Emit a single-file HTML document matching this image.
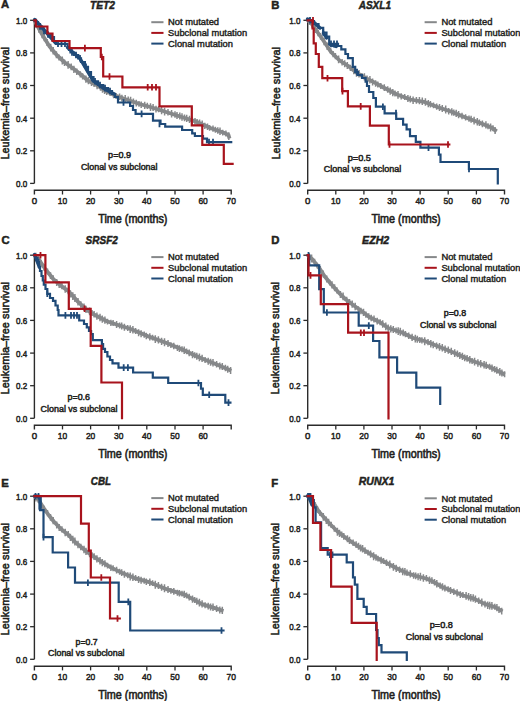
<!DOCTYPE html>
<html><head><meta charset="utf-8"><style>
html,body{margin:0;padding:0;background:#fff;}
svg{display:block;}
text{font-family:"Liberation Sans", sans-serif;fill:#231f20;stroke:#231f20;}
</style></head><body>
<svg width="520" height="701" viewBox="0 0 520 701">
<rect width="520" height="701" fill="#fff"/>
<text x="1.0" y="8.3" font-size="11.3" text-anchor="start" font-weight="bold" font-style="normal" stroke-width="0.5">A</text>
<text x="90.0" y="8.5" font-size="11.3" text-anchor="start" font-weight="bold" font-style="italic" textLength="25.0" lengthAdjust="spacingAndGlyphs" stroke-width="0.5">TET2</text>
<path d="M34.4 20.3V183.4" stroke="#2b2b2b" stroke-width="1.4" fill="none"/>
<path d="M30.1 183.4H34.4" stroke="#2b2b2b" stroke-width="1.3"/>
<text x="27.2" y="186.9" font-size="9.8" text-anchor="end" font-weight="normal" font-style="normal" textLength="11.2" lengthAdjust="spacingAndGlyphs" stroke-width="0.5">0.0</text>
<path d="M30.1 150.8H34.4" stroke="#2b2b2b" stroke-width="1.3"/>
<text x="27.2" y="154.3" font-size="9.8" text-anchor="end" font-weight="normal" font-style="normal" textLength="11.2" lengthAdjust="spacingAndGlyphs" stroke-width="0.5">0.2</text>
<path d="M30.1 118.2H34.4" stroke="#2b2b2b" stroke-width="1.3"/>
<text x="27.2" y="121.7" font-size="9.8" text-anchor="end" font-weight="normal" font-style="normal" textLength="11.2" lengthAdjust="spacingAndGlyphs" stroke-width="0.5">0.4</text>
<path d="M30.1 85.5H34.4" stroke="#2b2b2b" stroke-width="1.3"/>
<text x="27.2" y="89.0" font-size="9.8" text-anchor="end" font-weight="normal" font-style="normal" textLength="11.2" lengthAdjust="spacingAndGlyphs" stroke-width="0.5">0.6</text>
<path d="M30.1 52.9H34.4" stroke="#2b2b2b" stroke-width="1.3"/>
<text x="27.2" y="56.4" font-size="9.8" text-anchor="end" font-weight="normal" font-style="normal" textLength="11.2" lengthAdjust="spacingAndGlyphs" stroke-width="0.5">0.8</text>
<path d="M30.1 20.3H34.4" stroke="#2b2b2b" stroke-width="1.3"/>
<text x="27.2" y="23.8" font-size="9.8" text-anchor="end" font-weight="normal" font-style="normal" textLength="11.2" lengthAdjust="spacingAndGlyphs" stroke-width="0.5">1.0</text>
<text x="0" y="0" font-size="11.6" text-anchor="middle" textLength="112.5" lengthAdjust="spacingAndGlyphs" stroke-width="0.55" transform="translate(8.8 103.3) rotate(-90)">Leukemia–free survival</text>
<path d="M34.4 194.5V190.3H231.2V194.5" stroke="#2b2b2b" stroke-width="1.4" fill="none"/>
<text x="34.4" y="203.7" font-size="9.8" text-anchor="middle" font-weight="normal" font-style="normal" textLength="5.4" lengthAdjust="spacingAndGlyphs" stroke-width="0.5">0</text>
<path d="M62.5 190.3V194.5" stroke="#2b2b2b" stroke-width="1.3"/>
<text x="62.5" y="203.7" font-size="9.8" text-anchor="middle" font-weight="normal" font-style="normal" textLength="9.4" lengthAdjust="spacingAndGlyphs" stroke-width="0.5">10</text>
<path d="M90.6 190.3V194.5" stroke="#2b2b2b" stroke-width="1.3"/>
<text x="90.6" y="203.7" font-size="9.8" text-anchor="middle" font-weight="normal" font-style="normal" textLength="9.4" lengthAdjust="spacingAndGlyphs" stroke-width="0.5">20</text>
<path d="M118.7 190.3V194.5" stroke="#2b2b2b" stroke-width="1.3"/>
<text x="118.7" y="203.7" font-size="9.8" text-anchor="middle" font-weight="normal" font-style="normal" textLength="9.4" lengthAdjust="spacingAndGlyphs" stroke-width="0.5">30</text>
<path d="M146.8 190.3V194.5" stroke="#2b2b2b" stroke-width="1.3"/>
<text x="146.8" y="203.7" font-size="9.8" text-anchor="middle" font-weight="normal" font-style="normal" textLength="9.4" lengthAdjust="spacingAndGlyphs" stroke-width="0.5">40</text>
<path d="M175.0 190.3V194.5" stroke="#2b2b2b" stroke-width="1.3"/>
<text x="175.0" y="203.7" font-size="9.8" text-anchor="middle" font-weight="normal" font-style="normal" textLength="9.4" lengthAdjust="spacingAndGlyphs" stroke-width="0.5">50</text>
<path d="M203.1 190.3V194.5" stroke="#2b2b2b" stroke-width="1.3"/>
<text x="203.1" y="203.7" font-size="9.8" text-anchor="middle" font-weight="normal" font-style="normal" textLength="9.4" lengthAdjust="spacingAndGlyphs" stroke-width="0.5">60</text>
<text x="231.2" y="203.7" font-size="9.8" text-anchor="middle" font-weight="normal" font-style="normal" textLength="9.4" lengthAdjust="spacingAndGlyphs" stroke-width="0.5">70</text>
<text x="132.8" y="223.2" font-size="12" text-anchor="middle" font-weight="normal" font-style="normal" textLength="69.2" lengthAdjust="spacingAndGlyphs" stroke-width="0.6">Time (months)</text>
<path d="M151.3 22.2H163.5" stroke="#86888a" stroke-width="2"/>
<text x="168.1" y="25.4" font-size="9.3" text-anchor="start" font-weight="normal" font-style="normal" textLength="51.0" lengthAdjust="spacingAndGlyphs" stroke-width="0.42">Not mutated</text>
<path d="M151.3 32.9H163.5" stroke="#a8131c" stroke-width="2"/>
<text x="168.1" y="36.1" font-size="9.3" text-anchor="start" font-weight="normal" font-style="normal" textLength="79.0" lengthAdjust="spacingAndGlyphs" stroke-width="0.42">Subclonal mutation</text>
<path d="M151.3 43.6H163.5" stroke="#1f4a78" stroke-width="2"/>
<text x="168.1" y="46.8" font-size="9.3" text-anchor="start" font-weight="normal" font-style="normal" textLength="64.8" lengthAdjust="spacingAndGlyphs" stroke-width="0.42">Clonal mutation</text>
<text x="108.1" y="158.1" font-size="9.2" text-anchor="start" font-weight="normal" font-style="normal" textLength="22.9" lengthAdjust="spacingAndGlyphs" stroke-width="0.5">p=0.9</text>
<text x="80.9" y="170.4" font-size="9.2" text-anchor="start" font-weight="normal" font-style="normal" textLength="76.6" lengthAdjust="spacingAndGlyphs" stroke-width="0.5">Clonal vs subclonal</text>
<path d="M34.4 20.3 L41.7 33.8 L49.4 46.2 L57.1 55.5 L64.8 62.5 L72.5 68.0 L80.2 74.0 L87.8 80.5 L95.5 84.5 L104.8 90.5 L114.0 95.0 L123.5 98.5 L139.6 104.0 L150.4 107.0 L163.8 111.2 L178.6 116.0 L196.9 121.9 L210.4 128.0 L223.8 132.7 L228.5 135.0 L229.5 138.5" stroke="#86888a" stroke-width="3.8" fill="none" stroke-linejoin="round"/><path d="M35.9 19.7V27.2M38.9 24.9V32.7M42.1 30.6V38.2M44.3 33.9V41.3M47.1 39.0V46.0M50.7 43.8V51.5M53.2 47.0V54.4M56.4 51.2V58.2M59.0 54.4V60.4M62.3 56.5V64.4M64.5 59.4V65.9M68.1 60.9V68.7M71.2 63.5V70.2M73.9 65.7V73.1M76.8 68.5V74.9M80.3 71.2V77.5M82.6 73.3V79.5M85.9 75.5V82.8M88.4 76.9V84.3M91.5 78.7V86.0M94.1 80.4V87.0M97.1 81.9V89.3M100.5 84.8V90.7M102.5 85.6V92.8M104.6 86.3V94.1M106.7 87.2V95.1M110.1 89.8V95.9M113.6 91.9V98.3M116.1 93.1V99.0M119.6 93.6V99.9M121.9 94.8V101.6M125.2 94.9V102.8M128.2 96.5V103.1M130.6 96.8V104.6M133.4 98.5V105.5M136.3 99.7V106.6M139.0 100.9V106.8M141.2 101.5V108.1M144.7 101.7V109.1M147.3 102.8V109.1M150.5 103.3V111.1M153.1 104.1V111.0M156.0 105.7V112.4M158.6 106.1V112.3M161.6 106.6V114.2M164.6 107.8V115.5M168.0 109.1V115.4M171.6 109.9V117.4M175.0 111.2V117.8M177.0 112.0V119.1M179.8 112.6V119.5M182.0 113.3V120.8M184.5 114.6V121.3M186.7 114.8V121.9M189.5 115.7V123.1M192.2 116.6V124.2M195.0 118.1V124.7M197.1 118.9V125.6M199.6 119.6V125.9M202.2 120.6V127.4M204.8 122.8V128.9M207.5 123.4V130.1M209.6 124.9V130.7M213.0 125.4V131.8M215.4 126.7V132.8M217.8 127.3V133.7M220.0 127.6V134.9M222.7 129.7V135.6M225.9 130.5V136.5M228.8 132.2V140.1" stroke="#86888a" stroke-width="1.5" fill="none"/>
<path d="M34.4 20.3H36.0V22.0H38.0V24.0H40.0V26.5H42.0V28.5H44.0V31.0H46.0V33.0H48.0V34.5H51.2V37.0H54.0V41.0H56.0V43.8H67.6V47.0H69.0V50.0H70.5V52.5H74.0V55.0H78.2V58.3H81.0V62.0H84.9V66.9H88.0V72.0H91.0V77.0H93.5V81.3H98.0V85.0H103.2V88.1H108.0V91.0H112.0V93.8H115.0V97.0H118.0V102.5H130.1V106.0H133.0V110.0H135.6V113.9H153.0V120.7H160.5V124.0H165.2V126.7H182.1V130.0H192.2V133.4H194.9V136.0H203.0V138.7H207.0V142.1H231.2" stroke="#1f4a78" stroke-width="2.2" fill="none" stroke-linecap="square"/><path d="M36.0 18.7V25.3M40.0 23.2V29.8M44.0 27.7V34.3M48.0 31.2V37.8M58.0 40.5V47.1M61.5 40.5V47.1M65.0 40.5V47.1M72.0 49.2V55.8M76.0 51.7V58.3M80.0 55.0V61.6M86.0 63.6V70.2M95.0 78.0V84.6M100.0 81.7V88.3M105.0 84.8V91.4M110.0 87.7V94.3M123.5 99.2V105.8M141.6 110.6V117.2M159.5 120.7V127.3M209.0 138.8V145.4M213.0 138.8V145.4" stroke="#1f4a78" stroke-width="1.8" fill="none"/>
<path d="M34.6 19.5 L45.0 31.0 L55.5 43.0" stroke="#1f4a78" stroke-width="3.4" fill="none" stroke-linecap="round"/>
<path d="M67.5 47.5 L80.0 58.5 L93.0 80.5 L104.0 88.5 L114.0 94.0" stroke="#1f4a78" stroke-width="3.4" fill="none" stroke-linecap="round"/>
<path d="M34.4 20.3H35.8V26.5H47.4V33.5H52.5V41.0H69.5V48.1H100.8V57.0H103.2V76.5H122.4V87.3H159.5V106.4H191.8V125.3H202.3V144.8H223.8V163.9H232.6" stroke="#a8131c" stroke-width="2.2" fill="none" stroke-linecap="square"/><path d="M84.9 44.8V51.4M101.8 53.7V60.3M109.5 73.2V79.8M147.7 84.0V90.6M152.0 84.0V90.6M156.0 84.0V90.6" stroke="#a8131c" stroke-width="1.8" fill="none"/>
<text x="271.2" y="8.7" font-size="11.3" text-anchor="start" font-weight="bold" font-style="normal" stroke-width="0.5">B</text>
<text x="358.7" y="8.7" font-size="11.3" text-anchor="start" font-weight="bold" font-style="italic" textLength="32.3" lengthAdjust="spacingAndGlyphs" stroke-width="0.5">ASXL1</text>
<path d="M307.7 20.3V183.4" stroke="#2b2b2b" stroke-width="1.4" fill="none"/>
<path d="M303.4 183.4H307.7" stroke="#2b2b2b" stroke-width="1.3"/>
<text x="300.5" y="186.9" font-size="9.8" text-anchor="end" font-weight="normal" font-style="normal" textLength="11.2" lengthAdjust="spacingAndGlyphs" stroke-width="0.5">0.0</text>
<path d="M303.4 150.8H307.7" stroke="#2b2b2b" stroke-width="1.3"/>
<text x="300.5" y="154.3" font-size="9.8" text-anchor="end" font-weight="normal" font-style="normal" textLength="11.2" lengthAdjust="spacingAndGlyphs" stroke-width="0.5">0.2</text>
<path d="M303.4 118.2H307.7" stroke="#2b2b2b" stroke-width="1.3"/>
<text x="300.5" y="121.7" font-size="9.8" text-anchor="end" font-weight="normal" font-style="normal" textLength="11.2" lengthAdjust="spacingAndGlyphs" stroke-width="0.5">0.4</text>
<path d="M303.4 85.5H307.7" stroke="#2b2b2b" stroke-width="1.3"/>
<text x="300.5" y="89.0" font-size="9.8" text-anchor="end" font-weight="normal" font-style="normal" textLength="11.2" lengthAdjust="spacingAndGlyphs" stroke-width="0.5">0.6</text>
<path d="M303.4 52.9H307.7" stroke="#2b2b2b" stroke-width="1.3"/>
<text x="300.5" y="56.4" font-size="9.8" text-anchor="end" font-weight="normal" font-style="normal" textLength="11.2" lengthAdjust="spacingAndGlyphs" stroke-width="0.5">0.8</text>
<path d="M303.4 20.3H307.7" stroke="#2b2b2b" stroke-width="1.3"/>
<text x="300.5" y="23.8" font-size="9.8" text-anchor="end" font-weight="normal" font-style="normal" textLength="11.2" lengthAdjust="spacingAndGlyphs" stroke-width="0.5">1.0</text>
<text x="0" y="0" font-size="11.6" text-anchor="middle" textLength="112.5" lengthAdjust="spacingAndGlyphs" stroke-width="0.55" transform="translate(279.5 103.3) rotate(-90)">Leukemia–free survival</text>
<path d="M307.7 194.5V190.3H504.5V194.5" stroke="#2b2b2b" stroke-width="1.4" fill="none"/>
<text x="307.7" y="203.7" font-size="9.8" text-anchor="middle" font-weight="normal" font-style="normal" textLength="5.4" lengthAdjust="spacingAndGlyphs" stroke-width="0.5">0</text>
<path d="M335.8 190.3V194.5" stroke="#2b2b2b" stroke-width="1.3"/>
<text x="335.8" y="203.7" font-size="9.8" text-anchor="middle" font-weight="normal" font-style="normal" textLength="9.4" lengthAdjust="spacingAndGlyphs" stroke-width="0.5">10</text>
<path d="M363.9 190.3V194.5" stroke="#2b2b2b" stroke-width="1.3"/>
<text x="363.9" y="203.7" font-size="9.8" text-anchor="middle" font-weight="normal" font-style="normal" textLength="9.4" lengthAdjust="spacingAndGlyphs" stroke-width="0.5">20</text>
<path d="M392.0 190.3V194.5" stroke="#2b2b2b" stroke-width="1.3"/>
<text x="392.0" y="203.7" font-size="9.8" text-anchor="middle" font-weight="normal" font-style="normal" textLength="9.4" lengthAdjust="spacingAndGlyphs" stroke-width="0.5">30</text>
<path d="M420.1 190.3V194.5" stroke="#2b2b2b" stroke-width="1.3"/>
<text x="420.1" y="203.7" font-size="9.8" text-anchor="middle" font-weight="normal" font-style="normal" textLength="9.4" lengthAdjust="spacingAndGlyphs" stroke-width="0.5">40</text>
<path d="M448.2 190.3V194.5" stroke="#2b2b2b" stroke-width="1.3"/>
<text x="448.2" y="203.7" font-size="9.8" text-anchor="middle" font-weight="normal" font-style="normal" textLength="9.4" lengthAdjust="spacingAndGlyphs" stroke-width="0.5">50</text>
<path d="M476.4 190.3V194.5" stroke="#2b2b2b" stroke-width="1.3"/>
<text x="476.4" y="203.7" font-size="9.8" text-anchor="middle" font-weight="normal" font-style="normal" textLength="9.4" lengthAdjust="spacingAndGlyphs" stroke-width="0.5">60</text>
<text x="504.5" y="203.7" font-size="9.8" text-anchor="middle" font-weight="normal" font-style="normal" textLength="9.4" lengthAdjust="spacingAndGlyphs" stroke-width="0.5">70</text>
<text x="406.1" y="223.2" font-size="12" text-anchor="middle" font-weight="normal" font-style="normal" textLength="69.2" lengthAdjust="spacingAndGlyphs" stroke-width="0.6">Time (months)</text>
<path d="M424.6 22.2H436.8" stroke="#86888a" stroke-width="2"/>
<text x="441.4" y="25.4" font-size="9.3" text-anchor="start" font-weight="normal" font-style="normal" textLength="51.0" lengthAdjust="spacingAndGlyphs" stroke-width="0.42">Not mutated</text>
<path d="M424.6 32.9H436.8" stroke="#a8131c" stroke-width="2"/>
<text x="441.4" y="36.1" font-size="9.3" text-anchor="start" font-weight="normal" font-style="normal" textLength="79.0" lengthAdjust="spacingAndGlyphs" stroke-width="0.42">Subclonal mutation</text>
<path d="M424.6 43.6H436.8" stroke="#1f4a78" stroke-width="2"/>
<text x="441.4" y="46.8" font-size="9.3" text-anchor="start" font-weight="normal" font-style="normal" textLength="64.8" lengthAdjust="spacingAndGlyphs" stroke-width="0.42">Clonal mutation</text>
<text x="347.7" y="160.9" font-size="9.2" text-anchor="start" font-weight="normal" font-style="normal" textLength="23.3" lengthAdjust="spacingAndGlyphs" stroke-width="0.5">p=0.5</text>
<text x="323.8" y="172.3" font-size="9.2" text-anchor="start" font-weight="normal" font-style="normal" textLength="77.5" lengthAdjust="spacingAndGlyphs" stroke-width="0.5">Clonal vs subclonal</text>
<path d="M307.7 20.3 L311.0 23.0 L322.0 38.5 L331.0 52.0 L339.6 60.5 L348.3 66.0 L356.9 72.9 L365.6 78.0 L374.2 82.4 L383.5 87.5 L397.0 94.5 L410.4 99.5 L423.9 101.8 L437.4 107.0 L450.9 111.5 L464.3 117.0 L477.8 122.0 L491.3 127.4 L496.7 131.4" stroke="#86888a" stroke-width="3.8" fill="none" stroke-linejoin="round"/><path d="M309.2 18.1V25.0M312.2 20.9V28.1M315.4 25.1V33.0M318.1 29.8V36.2M320.6 33.0V39.7M324.1 38.0V45.2M327.2 42.5V50.1M330.6 48.0V54.1M333.1 51.1V57.2M335.4 53.0V59.2M338.6 55.4V63.3M342.1 58.9V65.6M344.7 60.2V67.2M347.3 62.1V68.9M350.4 64.7V71.0M353.8 67.2V74.2M356.5 69.0V76.8M359.0 70.1V77.5M361.9 72.9V78.9M364.4 73.2V80.6M367.0 75.6V82.2M369.9 76.1V83.6M372.6 78.4V85.4M375.6 80.3V86.8M377.8 81.4V87.4M380.8 83.1V88.9M384.3 84.3V91.1M387.7 86.2V92.7M390.2 87.5V94.8M392.8 88.9V96.3M395.0 90.5V96.5M398.0 91.0V98.8M401.2 93.3V99.5M404.7 94.1V99.9M407.9 94.9V102.1M410.3 95.8V102.5M413.1 96.5V104.0M416.4 96.9V103.8M419.4 97.0V104.3M422.3 97.6V104.9M425.4 98.3V105.8M428.3 99.9V107.2M430.4 101.0V107.6M433.5 102.5V108.3M436.7 103.6V109.7M439.5 104.0V111.0M442.3 105.0V111.9M445.7 105.5V113.5M448.7 108.0V114.4M451.8 108.3V115.4M453.8 109.4V115.7M456.2 109.8V117.1M458.6 111.0V118.3M462.0 112.8V119.2M465.6 114.2V120.6M469.0 115.6V121.7M471.1 115.8V122.7M474.1 116.8V124.6M477.3 117.9V125.6M479.4 119.4V126.1M482.4 120.5V127.2M485.9 121.3V128.6M488.0 123.2V129.2M490.6 123.5V131.5M493.0 125.3V131.3M495.1 126.9V133.9" stroke="#86888a" stroke-width="1.5" fill="none"/>
<path d="M307.7 20.3H311.0V21.0H314.0V24.0H318.5V27.8H323.2V32.5H326.5V36.5H329.2V43.9H338.0V46.0H341.3V49.3H345.4V54.0H348.0V58.1H352.8V66.8H355.2V72.1H358.0V75.0H362.0V78.0H365.6V81.6H367.0V86.0H369.0V92.0H373.3V98.0H375.9V106.7H384.6V113.3H396.2V118.9H403.1V124.7H406.6V129.3H410.0V136.2H415.8V141.9H420.4V147.7H438.9V154.6H440.5V162.0H468.9V169.0H497.8V183.5H497.8" stroke="#1f4a78" stroke-width="2.2" fill="none" stroke-linecap="square"/><path d="M310.0 17.0V23.6M323.2 29.2V35.8M331.0 40.6V47.2M334.0 40.6V47.2M337.0 40.6V47.2M357.0 68.8V75.4M382.9 103.4V110.0M396.0 109.8V116.4M428.5 144.4V151.0M469.0 165.7V172.3" stroke="#1f4a78" stroke-width="1.8" fill="none"/>
<path d="M307.5 19.0 L314.0 22.5 L320.0 28.0" stroke="#1f4a78" stroke-width="3.4" fill="none" stroke-linecap="round"/>
<path d="M323.5 33.0 L326.5 38.0" stroke="#1f4a78" stroke-width="3.4" fill="none" stroke-linecap="round"/>
<path d="M330.0 44.5 L336.0 46.5" stroke="#1f4a78" stroke-width="3.4" fill="none" stroke-linecap="round"/>
<path d="M307.7 20.3H312.5V28.5H313.7V43.3H315.8V54.0H318.8V66.9H322.3V78.2H342.2V91.1H347.9V106.4H369.9V125.6H388.8V144.5H449.3" stroke="#a8131c" stroke-width="2.2" fill="none" stroke-linecap="square"/><path d="M313.0 17.0V23.6M327.5 74.9V81.5M342.5 87.8V94.4M360.7 103.1V109.7M389.5 141.2V147.8M448.0 141.2V147.8" stroke="#a8131c" stroke-width="1.8" fill="none"/>
<text x="1.4" y="243.8" font-size="11.3" text-anchor="start" font-weight="bold" font-style="normal" stroke-width="0.5">C</text>
<text x="85.6" y="243.8" font-size="11.3" text-anchor="start" font-weight="bold" font-style="italic" textLength="32.3" lengthAdjust="spacingAndGlyphs" stroke-width="0.5">SRSF2</text>
<path d="M34.4 255.2V418.3" stroke="#2b2b2b" stroke-width="1.4" fill="none"/>
<path d="M30.1 418.3H34.4" stroke="#2b2b2b" stroke-width="1.3"/>
<text x="27.2" y="421.8" font-size="9.8" text-anchor="end" font-weight="normal" font-style="normal" textLength="11.2" lengthAdjust="spacingAndGlyphs" stroke-width="0.5">0.0</text>
<path d="M30.1 385.7H34.4" stroke="#2b2b2b" stroke-width="1.3"/>
<text x="27.2" y="389.2" font-size="9.8" text-anchor="end" font-weight="normal" font-style="normal" textLength="11.2" lengthAdjust="spacingAndGlyphs" stroke-width="0.5">0.2</text>
<path d="M30.1 353.1H34.4" stroke="#2b2b2b" stroke-width="1.3"/>
<text x="27.2" y="356.6" font-size="9.8" text-anchor="end" font-weight="normal" font-style="normal" textLength="11.2" lengthAdjust="spacingAndGlyphs" stroke-width="0.5">0.4</text>
<path d="M30.1 320.4H34.4" stroke="#2b2b2b" stroke-width="1.3"/>
<text x="27.2" y="323.9" font-size="9.8" text-anchor="end" font-weight="normal" font-style="normal" textLength="11.2" lengthAdjust="spacingAndGlyphs" stroke-width="0.5">0.6</text>
<path d="M30.1 287.8H34.4" stroke="#2b2b2b" stroke-width="1.3"/>
<text x="27.2" y="291.3" font-size="9.8" text-anchor="end" font-weight="normal" font-style="normal" textLength="11.2" lengthAdjust="spacingAndGlyphs" stroke-width="0.5">0.8</text>
<path d="M30.1 255.2H34.4" stroke="#2b2b2b" stroke-width="1.3"/>
<text x="27.2" y="258.7" font-size="9.8" text-anchor="end" font-weight="normal" font-style="normal" textLength="11.2" lengthAdjust="spacingAndGlyphs" stroke-width="0.5">1.0</text>
<text x="0" y="0" font-size="11.6" text-anchor="middle" textLength="112.5" lengthAdjust="spacingAndGlyphs" stroke-width="0.55" transform="translate(8.8 338.2) rotate(-90)">Leukemia–free survival</text>
<path d="M34.4 429.4V425.2H231.2V429.4" stroke="#2b2b2b" stroke-width="1.4" fill="none"/>
<text x="34.4" y="438.6" font-size="9.8" text-anchor="middle" font-weight="normal" font-style="normal" textLength="5.4" lengthAdjust="spacingAndGlyphs" stroke-width="0.5">0</text>
<path d="M62.5 425.2V429.4" stroke="#2b2b2b" stroke-width="1.3"/>
<text x="62.5" y="438.6" font-size="9.8" text-anchor="middle" font-weight="normal" font-style="normal" textLength="9.4" lengthAdjust="spacingAndGlyphs" stroke-width="0.5">10</text>
<path d="M90.6 425.2V429.4" stroke="#2b2b2b" stroke-width="1.3"/>
<text x="90.6" y="438.6" font-size="9.8" text-anchor="middle" font-weight="normal" font-style="normal" textLength="9.4" lengthAdjust="spacingAndGlyphs" stroke-width="0.5">20</text>
<path d="M118.7 425.2V429.4" stroke="#2b2b2b" stroke-width="1.3"/>
<text x="118.7" y="438.6" font-size="9.8" text-anchor="middle" font-weight="normal" font-style="normal" textLength="9.4" lengthAdjust="spacingAndGlyphs" stroke-width="0.5">30</text>
<path d="M146.8 425.2V429.4" stroke="#2b2b2b" stroke-width="1.3"/>
<text x="146.8" y="438.6" font-size="9.8" text-anchor="middle" font-weight="normal" font-style="normal" textLength="9.4" lengthAdjust="spacingAndGlyphs" stroke-width="0.5">40</text>
<path d="M175.0 425.2V429.4" stroke="#2b2b2b" stroke-width="1.3"/>
<text x="175.0" y="438.6" font-size="9.8" text-anchor="middle" font-weight="normal" font-style="normal" textLength="9.4" lengthAdjust="spacingAndGlyphs" stroke-width="0.5">50</text>
<path d="M203.1 425.2V429.4" stroke="#2b2b2b" stroke-width="1.3"/>
<text x="203.1" y="438.6" font-size="9.8" text-anchor="middle" font-weight="normal" font-style="normal" textLength="9.4" lengthAdjust="spacingAndGlyphs" stroke-width="0.5">60</text>
<text x="132.8" y="458.1" font-size="12" text-anchor="middle" font-weight="normal" font-style="normal" textLength="69.2" lengthAdjust="spacingAndGlyphs" stroke-width="0.6">Time (months)</text>
<path d="M151.3 257.1H163.5" stroke="#86888a" stroke-width="2"/>
<text x="168.1" y="260.3" font-size="9.3" text-anchor="start" font-weight="normal" font-style="normal" textLength="51.0" lengthAdjust="spacingAndGlyphs" stroke-width="0.42">Not mutated</text>
<path d="M151.3 267.8H163.5" stroke="#a8131c" stroke-width="2"/>
<text x="168.1" y="271.0" font-size="9.3" text-anchor="start" font-weight="normal" font-style="normal" textLength="79.0" lengthAdjust="spacingAndGlyphs" stroke-width="0.42">Subclonal mutation</text>
<path d="M151.3 278.5H163.5" stroke="#1f4a78" stroke-width="2"/>
<text x="168.1" y="281.7" font-size="9.3" text-anchor="start" font-weight="normal" font-style="normal" textLength="64.8" lengthAdjust="spacingAndGlyphs" stroke-width="0.42">Clonal mutation</text>
<text x="67.5" y="400.2" font-size="9.2" text-anchor="start" font-weight="normal" font-style="normal" textLength="22.5" lengthAdjust="spacingAndGlyphs" stroke-width="0.5">p=0.6</text>
<text x="40.6" y="411.7" font-size="9.2" text-anchor="start" font-weight="normal" font-style="normal" textLength="76.9" lengthAdjust="spacingAndGlyphs" stroke-width="0.5">Clonal vs subclonal</text>
<path d="M34.4 255.2 L37.7 257.7 L45.4 269.2 L53.1 278.8 L60.8 285.6 L68.5 291.3 L78.1 301.9 L87.7 310.6 L97.3 316.3 L106.9 321.2 L116.5 324.5 L130.0 328.8 L147.6 336.1 L167.3 343.3 L184.6 350.5 L193.3 354.8 L201.9 358.6 L219.2 365.5 L231.3 370.7" stroke="#86888a" stroke-width="3.8" fill="none" stroke-linejoin="round"/><path d="M35.9 252.8V260.6M38.4 254.9V262.2M41.1 259.8V266.4M44.3 264.2V271.1M47.5 268.5V274.6M50.5 272.2V278.9M53.2 275.2V282.4M56.7 278.9V285.9M59.2 280.9V288.0M61.9 282.9V289.2M65.2 285.2V292.8M68.2 287.4V294.2M70.4 290.2V297.4M72.8 292.3V299.9M74.9 294.0V302.0M78.0 298.0V305.4M80.8 301.3V307.8M84.0 303.6V311.1M86.0 305.7V313.1M89.6 307.5V315.3M92.0 310.0V316.1M94.1 310.9V317.5M96.9 312.5V319.8M100.0 313.7V321.3M102.3 315.6V322.8M104.9 316.6V323.7M107.5 318.7V324.6M110.9 319.7V326.0M113.1 320.1V326.1M116.6 321.0V327.9M119.6 322.5V328.6M121.7 322.6V329.4M124.4 323.8V330.8M127.7 325.1V331.0M130.2 325.2V333.0M132.9 326.1V333.6M135.6 327.9V333.9M138.6 329.2V336.2M141.1 330.3V337.3M144.2 331.6V337.7M146.3 332.7V339.2M149.8 333.2V340.5M152.6 334.7V340.6M155.3 335.2V343.1M158.4 336.2V343.4M161.6 337.8V345.0M164.5 338.3V346.2M168.0 340.1V347.0M170.9 342.2V348.0M173.8 342.7V349.3M177.4 344.8V350.9M179.4 345.3V351.9M182.0 346.3V352.2M184.2 346.6V354.0M186.6 348.4V354.3M189.2 349.4V356.2M192.5 351.0V358.2M194.7 352.2V358.2M196.8 352.8V359.8M199.4 353.4V361.3M202.1 354.8V362.1M205.1 356.9V363.1M208.2 357.8V364.7M210.6 358.7V365.8M213.0 358.9V366.5M216.6 361.1V367.6M219.8 362.4V369.5M222.3 362.9V370.1M225.4 364.8V371.3M227.7 365.8V372.7M230.6 367.1V373.9" stroke="#86888a" stroke-width="1.5" fill="none"/>
<path d="M34.4 255.2H36.0V258.0H37.5V262.0H39.0V267.0H40.0V271.0H41.5V276.0H42.8V280.5H43.8V284.6H45.5V289.0H47.3V293.8H50.0V298.0H53.0V300.8H55.5V305.5H57.7V310.0H58.5V315.4H79.2V320.5H84.0V324.0H86.8V327.4H89.0V331.0H91.1V334.2H92.8V340.2H101.9V344.0H103.1V348.8H105.0V352.0H107.4V356.5H110.0V360.0H112.5V363.4H118.5V367.6H133.1V372.5H152.8V377.7H168.2V383.0H201.0V388.7H202.8V394.8H225.3V402.6H230.4" stroke="#1f4a78" stroke-width="2.2" fill="none" stroke-linecap="square"/><path d="M36.0 254.7V261.3M38.5 259.0V265.6M47.3 290.5V297.1M65.4 312.1V318.7M71.0 312.1V318.7M74.0 312.1V318.7M77.0 312.1V318.7M123.7 364.3V370.9M127.9 364.3V370.9M198.4 379.7V386.3M209.2 391.5V398.1M228.5 399.3V405.9" stroke="#1f4a78" stroke-width="1.8" fill="none"/>
<path d="M34.5 254.5 L37.0 261.0 L39.5 267.5" stroke="#1f4a78" stroke-width="3.4" fill="none" stroke-linecap="round"/>
<path d="M34.4 255.2H45.4V282.3H68.8V308.8H90.7V345.9H101.4V382.5H122.0V418.2H122.0" stroke="#a8131c" stroke-width="2.2" fill="none" stroke-linecap="square"/><path d="M40.5 251.9V258.5M84.6 305.5V312.1" stroke="#a8131c" stroke-width="1.8" fill="none"/>
<text x="271.2" y="244.1" font-size="11.3" text-anchor="start" font-weight="bold" font-style="normal" stroke-width="0.5">D</text>
<text x="362.1" y="244.1" font-size="11.3" text-anchor="start" font-weight="bold" font-style="italic" textLength="27.1" lengthAdjust="spacingAndGlyphs" stroke-width="0.5">EZH2</text>
<path d="M307.7 255.2V418.3" stroke="#2b2b2b" stroke-width="1.4" fill="none"/>
<path d="M303.4 418.3H307.7" stroke="#2b2b2b" stroke-width="1.3"/>
<text x="300.5" y="421.8" font-size="9.8" text-anchor="end" font-weight="normal" font-style="normal" textLength="11.2" lengthAdjust="spacingAndGlyphs" stroke-width="0.5">0.0</text>
<path d="M303.4 385.7H307.7" stroke="#2b2b2b" stroke-width="1.3"/>
<text x="300.5" y="389.2" font-size="9.8" text-anchor="end" font-weight="normal" font-style="normal" textLength="11.2" lengthAdjust="spacingAndGlyphs" stroke-width="0.5">0.2</text>
<path d="M303.4 353.1H307.7" stroke="#2b2b2b" stroke-width="1.3"/>
<text x="300.5" y="356.6" font-size="9.8" text-anchor="end" font-weight="normal" font-style="normal" textLength="11.2" lengthAdjust="spacingAndGlyphs" stroke-width="0.5">0.4</text>
<path d="M303.4 320.4H307.7" stroke="#2b2b2b" stroke-width="1.3"/>
<text x="300.5" y="323.9" font-size="9.8" text-anchor="end" font-weight="normal" font-style="normal" textLength="11.2" lengthAdjust="spacingAndGlyphs" stroke-width="0.5">0.6</text>
<path d="M303.4 287.8H307.7" stroke="#2b2b2b" stroke-width="1.3"/>
<text x="300.5" y="291.3" font-size="9.8" text-anchor="end" font-weight="normal" font-style="normal" textLength="11.2" lengthAdjust="spacingAndGlyphs" stroke-width="0.5">0.8</text>
<path d="M303.4 255.2H307.7" stroke="#2b2b2b" stroke-width="1.3"/>
<text x="300.5" y="258.7" font-size="9.8" text-anchor="end" font-weight="normal" font-style="normal" textLength="11.2" lengthAdjust="spacingAndGlyphs" stroke-width="0.5">1.0</text>
<text x="0" y="0" font-size="11.6" text-anchor="middle" textLength="112.5" lengthAdjust="spacingAndGlyphs" stroke-width="0.55" transform="translate(278.8 338.2) rotate(-90)">Leukemia–free survival</text>
<path d="M307.7 429.4V425.2H504.5V429.4" stroke="#2b2b2b" stroke-width="1.4" fill="none"/>
<text x="307.7" y="438.6" font-size="9.8" text-anchor="middle" font-weight="normal" font-style="normal" textLength="5.4" lengthAdjust="spacingAndGlyphs" stroke-width="0.5">0</text>
<path d="M335.8 425.2V429.4" stroke="#2b2b2b" stroke-width="1.3"/>
<text x="335.8" y="438.6" font-size="9.8" text-anchor="middle" font-weight="normal" font-style="normal" textLength="9.4" lengthAdjust="spacingAndGlyphs" stroke-width="0.5">10</text>
<path d="M363.9 425.2V429.4" stroke="#2b2b2b" stroke-width="1.3"/>
<text x="363.9" y="438.6" font-size="9.8" text-anchor="middle" font-weight="normal" font-style="normal" textLength="9.4" lengthAdjust="spacingAndGlyphs" stroke-width="0.5">20</text>
<path d="M392.0 425.2V429.4" stroke="#2b2b2b" stroke-width="1.3"/>
<text x="392.0" y="438.6" font-size="9.8" text-anchor="middle" font-weight="normal" font-style="normal" textLength="9.4" lengthAdjust="spacingAndGlyphs" stroke-width="0.5">30</text>
<path d="M420.1 425.2V429.4" stroke="#2b2b2b" stroke-width="1.3"/>
<text x="420.1" y="438.6" font-size="9.8" text-anchor="middle" font-weight="normal" font-style="normal" textLength="9.4" lengthAdjust="spacingAndGlyphs" stroke-width="0.5">40</text>
<path d="M448.2 425.2V429.4" stroke="#2b2b2b" stroke-width="1.3"/>
<text x="448.2" y="438.6" font-size="9.8" text-anchor="middle" font-weight="normal" font-style="normal" textLength="9.4" lengthAdjust="spacingAndGlyphs" stroke-width="0.5">50</text>
<path d="M476.4 425.2V429.4" stroke="#2b2b2b" stroke-width="1.3"/>
<text x="476.4" y="438.6" font-size="9.8" text-anchor="middle" font-weight="normal" font-style="normal" textLength="9.4" lengthAdjust="spacingAndGlyphs" stroke-width="0.5">60</text>
<text x="504.5" y="438.6" font-size="9.8" text-anchor="middle" font-weight="normal" font-style="normal" textLength="9.4" lengthAdjust="spacingAndGlyphs" stroke-width="0.5">70</text>
<text x="406.1" y="458.1" font-size="12" text-anchor="middle" font-weight="normal" font-style="normal" textLength="69.2" lengthAdjust="spacingAndGlyphs" stroke-width="0.6">Time (months)</text>
<path d="M424.6 257.1H436.8" stroke="#86888a" stroke-width="2"/>
<text x="441.4" y="260.3" font-size="9.3" text-anchor="start" font-weight="normal" font-style="normal" textLength="51.0" lengthAdjust="spacingAndGlyphs" stroke-width="0.42">Not mutated</text>
<path d="M424.6 267.8H436.8" stroke="#a8131c" stroke-width="2"/>
<text x="441.4" y="271.0" font-size="9.3" text-anchor="start" font-weight="normal" font-style="normal" textLength="79.0" lengthAdjust="spacingAndGlyphs" stroke-width="0.42">Subclonal mutation</text>
<path d="M424.6 278.5H436.8" stroke="#1f4a78" stroke-width="2"/>
<text x="441.4" y="281.7" font-size="9.3" text-anchor="start" font-weight="normal" font-style="normal" textLength="64.8" lengthAdjust="spacingAndGlyphs" stroke-width="0.42">Clonal mutation</text>
<text x="443.7" y="315.9" font-size="9.2" text-anchor="start" font-weight="normal" font-style="normal" textLength="22.5" lengthAdjust="spacingAndGlyphs" stroke-width="0.5">p=0.8</text>
<text x="420.0" y="327.7" font-size="9.2" text-anchor="start" font-weight="normal" font-style="normal" textLength="76.5" lengthAdjust="spacingAndGlyphs" stroke-width="0.5">Clonal vs subclonal</text>
<path d="M307.7 255.2 L312.3 259.2 L318.5 266.9 L324.6 276.2 L330.8 283.8 L338.5 292.3 L346.2 299.8 L353.8 305.5 L361.5 311.0 L369.2 317.0 L380.0 322.3 L388.1 328.0 L401.5 332.3 L413.1 338.0 L424.6 341.0 L437.3 346.0 L454.6 352.9 L471.9 360.7 L489.2 366.7 L504.8 374.5" stroke="#86888a" stroke-width="3.8" fill="none" stroke-linejoin="round"/><path d="M309.2 252.9V260.4M311.6 254.6V262.5M314.6 258.7V266.2M317.3 262.7V268.6M320.3 266.1V273.5M323.3 270.5V277.6M326.7 275.4V282.4M329.7 279.8V285.6M332.0 281.3V288.6M334.6 284.2V291.3M336.9 287.3V293.4M340.4 291.1V297.9M343.1 292.6V300.2M346.7 296.8V304.2M349.5 298.9V305.1M352.2 300.6V307.7M355.2 302.8V310.2M358.4 306.2V312.2M360.9 307.7V314.2M363.5 308.7V315.9M365.9 311.6V317.7M368.7 313.2V319.7M371.2 314.8V321.2M374.0 315.5V322.4M377.2 317.8V324.5M380.1 319.2V325.3M382.7 320.2V327.7M385.8 322.6V330.2M388.2 324.4V331.7M390.8 325.2V332.6M393.3 326.1V333.1M396.1 327.4V333.4M398.2 327.2V335.0M400.3 327.8V335.7M403.2 329.6V336.3M405.4 331.1V337.3M408.7 332.5V339.1M412.1 333.8V341.1M415.3 334.8V342.6M417.3 335.8V342.7M419.8 336.9V342.9M421.9 337.2V343.6M424.7 337.2V345.2M428.0 339.1V345.3M430.8 340.0V347.5M433.2 341.2V348.3M436.6 342.6V349.2M439.5 342.9V350.7M442.3 344.0V351.5M445.1 345.5V352.9M448.3 346.4V353.7M451.3 347.7V355.1M454.7 349.2V357.1M457.4 350.5V357.2M459.8 351.9V359.1M462.4 352.7V359.9M464.7 354.4V361.3M467.1 355.0V361.7M469.8 356.1V363.4M472.1 358.0V364.1M474.6 357.7V365.5M477.9 359.3V366.7M480.7 360.1V367.6M484.1 360.9V368.6M486.2 361.7V369.0M489.6 363.7V369.7M492.0 364.5V371.8M494.6 366.0V372.6M496.8 366.7V373.7M499.8 367.9V375.8M501.9 369.5V376.5M504.6 371.3V377.3" stroke="#86888a" stroke-width="1.5" fill="none"/>
<path d="M307.7 255.2H309.2V265.4H319.2V289.2H323.8V312.5H358.7V325.6H373.1V341.0H379.4V357.3H397.1V372.7H416.3V387.7H440.2V403.9H440.2" stroke="#1f4a78" stroke-width="2.2" fill="none" stroke-linecap="square"/><path d="M308.5 251.9V258.5M326.9 309.2V315.8M368.8 322.3V328.9" stroke="#1f4a78" stroke-width="1.8" fill="none"/>
<path d="M307.7 255.2H308.5V275.4H320.8V304.2H348.1V332.7H388.5V418.3H388.5" stroke="#a8131c" stroke-width="2.2" fill="none" stroke-linecap="square"/><path d="M310.5 272.1V278.7M360.8 329.4V336.0M364.0 329.4V336.0" stroke="#a8131c" stroke-width="1.8" fill="none"/>
<text x="1.2" y="486.7" font-size="11.3" text-anchor="start" font-weight="bold" font-style="normal" stroke-width="0.5">E</text>
<text x="90.8" y="485.0" font-size="11.3" text-anchor="start" font-weight="bold" font-style="italic" textLength="20.2" lengthAdjust="spacingAndGlyphs" stroke-width="0.5">CBL</text>
<path d="M34.4 496.2V659.3" stroke="#2b2b2b" stroke-width="1.4" fill="none"/>
<path d="M30.1 659.3H34.4" stroke="#2b2b2b" stroke-width="1.3"/>
<text x="27.2" y="662.8" font-size="9.8" text-anchor="end" font-weight="normal" font-style="normal" textLength="11.2" lengthAdjust="spacingAndGlyphs" stroke-width="0.5">0.0</text>
<path d="M30.1 626.7H34.4" stroke="#2b2b2b" stroke-width="1.3"/>
<text x="27.2" y="630.2" font-size="9.8" text-anchor="end" font-weight="normal" font-style="normal" textLength="11.2" lengthAdjust="spacingAndGlyphs" stroke-width="0.5">0.2</text>
<path d="M30.1 594.1H34.4" stroke="#2b2b2b" stroke-width="1.3"/>
<text x="27.2" y="597.6" font-size="9.8" text-anchor="end" font-weight="normal" font-style="normal" textLength="11.2" lengthAdjust="spacingAndGlyphs" stroke-width="0.5">0.4</text>
<path d="M30.1 561.4H34.4" stroke="#2b2b2b" stroke-width="1.3"/>
<text x="27.2" y="564.9" font-size="9.8" text-anchor="end" font-weight="normal" font-style="normal" textLength="11.2" lengthAdjust="spacingAndGlyphs" stroke-width="0.5">0.6</text>
<path d="M30.1 528.8H34.4" stroke="#2b2b2b" stroke-width="1.3"/>
<text x="27.2" y="532.3" font-size="9.8" text-anchor="end" font-weight="normal" font-style="normal" textLength="11.2" lengthAdjust="spacingAndGlyphs" stroke-width="0.5">0.8</text>
<path d="M30.1 496.2H34.4" stroke="#2b2b2b" stroke-width="1.3"/>
<text x="27.2" y="499.7" font-size="9.8" text-anchor="end" font-weight="normal" font-style="normal" textLength="11.2" lengthAdjust="spacingAndGlyphs" stroke-width="0.5">1.0</text>
<text x="0" y="0" font-size="11.6" text-anchor="middle" textLength="112.5" lengthAdjust="spacingAndGlyphs" stroke-width="0.55" transform="translate(8.8 579.2) rotate(-90)">Leukemia–free survival</text>
<path d="M34.4 670.4V666.2H231.2V670.4" stroke="#2b2b2b" stroke-width="1.4" fill="none"/>
<text x="34.4" y="679.6" font-size="9.8" text-anchor="middle" font-weight="normal" font-style="normal" textLength="5.4" lengthAdjust="spacingAndGlyphs" stroke-width="0.5">0</text>
<path d="M62.5 666.2V670.4" stroke="#2b2b2b" stroke-width="1.3"/>
<text x="62.5" y="679.6" font-size="9.8" text-anchor="middle" font-weight="normal" font-style="normal" textLength="9.4" lengthAdjust="spacingAndGlyphs" stroke-width="0.5">10</text>
<path d="M90.6 666.2V670.4" stroke="#2b2b2b" stroke-width="1.3"/>
<text x="90.6" y="679.6" font-size="9.8" text-anchor="middle" font-weight="normal" font-style="normal" textLength="9.4" lengthAdjust="spacingAndGlyphs" stroke-width="0.5">20</text>
<path d="M118.7 666.2V670.4" stroke="#2b2b2b" stroke-width="1.3"/>
<text x="118.7" y="679.6" font-size="9.8" text-anchor="middle" font-weight="normal" font-style="normal" textLength="9.4" lengthAdjust="spacingAndGlyphs" stroke-width="0.5">30</text>
<path d="M146.8 666.2V670.4" stroke="#2b2b2b" stroke-width="1.3"/>
<text x="146.8" y="679.6" font-size="9.8" text-anchor="middle" font-weight="normal" font-style="normal" textLength="9.4" lengthAdjust="spacingAndGlyphs" stroke-width="0.5">40</text>
<path d="M175.0 666.2V670.4" stroke="#2b2b2b" stroke-width="1.3"/>
<text x="175.0" y="679.6" font-size="9.8" text-anchor="middle" font-weight="normal" font-style="normal" textLength="9.4" lengthAdjust="spacingAndGlyphs" stroke-width="0.5">50</text>
<path d="M203.1 666.2V670.4" stroke="#2b2b2b" stroke-width="1.3"/>
<text x="203.1" y="679.6" font-size="9.8" text-anchor="middle" font-weight="normal" font-style="normal" textLength="9.4" lengthAdjust="spacingAndGlyphs" stroke-width="0.5">60</text>
<text x="231.2" y="679.6" font-size="9.8" text-anchor="middle" font-weight="normal" font-style="normal" textLength="9.4" lengthAdjust="spacingAndGlyphs" stroke-width="0.5">70</text>
<text x="132.8" y="699.1" font-size="12" text-anchor="middle" font-weight="normal" font-style="normal" textLength="69.2" lengthAdjust="spacingAndGlyphs" stroke-width="0.6">Time (months)</text>
<path d="M151.3 498.1H163.5" stroke="#86888a" stroke-width="2"/>
<text x="168.1" y="501.3" font-size="9.3" text-anchor="start" font-weight="normal" font-style="normal" textLength="51.0" lengthAdjust="spacingAndGlyphs" stroke-width="0.42">Not mutated</text>
<path d="M151.3 508.8H163.5" stroke="#a8131c" stroke-width="2"/>
<text x="168.1" y="512.0" font-size="9.3" text-anchor="start" font-weight="normal" font-style="normal" textLength="79.0" lengthAdjust="spacingAndGlyphs" stroke-width="0.42">Subclonal mutation</text>
<path d="M151.3 519.5H163.5" stroke="#1f4a78" stroke-width="2"/>
<text x="168.1" y="522.7" font-size="9.3" text-anchor="start" font-weight="normal" font-style="normal" textLength="64.8" lengthAdjust="spacingAndGlyphs" stroke-width="0.42">Clonal mutation</text>
<text x="75.6" y="645.0" font-size="9.2" text-anchor="start" font-weight="normal" font-style="normal" textLength="22.1" lengthAdjust="spacingAndGlyphs" stroke-width="0.5">p=0.7</text>
<text x="48.1" y="656.3" font-size="9.2" text-anchor="start" font-weight="normal" font-style="normal" textLength="76.5" lengthAdjust="spacingAndGlyphs" stroke-width="0.5">Clonal vs subclonal</text>
<path d="M34.4 496.2 L38.0 499.0 L44.4 509.2 L49.0 515.5 L54.0 521.7 L61.0 529.0 L68.5 535.0 L76.2 543.1 L87.7 552.4 L99.3 560.4 L110.8 567.4 L122.4 573.1 L133.9 577.8 L150.0 582.4 L167.3 589.4 L184.6 594.6 L201.9 604.1 L215.7 608.4 L223.5 611.0" stroke="#86888a" stroke-width="3.8" fill="none" stroke-linejoin="round"/><path d="M35.9 493.9V501.6M38.4 495.8V503.1M41.1 500.9V507.6M44.3 505.7V512.6M47.5 510.1V516.2M50.5 514.0V520.7M53.2 517.0V524.2M56.7 521.4V528.4M59.2 523.9V531.0M61.9 526.2V532.5M65.2 528.7V536.3M68.2 531.1V537.8M70.4 533.8V541.0M72.8 535.8V543.4M74.9 537.4V545.4M78.0 540.8V548.2M80.8 543.7V550.2M84.0 545.8V553.3M86.0 547.7V555.1M89.6 549.5V557.2M92.0 552.2V558.3M94.1 553.3V559.9M96.9 555.2V562.5M100.0 556.9V564.5M102.3 559.0V566.2M104.9 560.2V567.3M107.5 562.7V568.6M110.9 564.5V570.9M113.1 565.3V571.3M116.6 566.8V573.6M119.6 568.8V574.8M121.7 569.2V576.0M124.4 570.7V577.7M127.7 572.3V578.2M130.2 572.6V580.4M132.9 573.5V581.0M135.6 575.0V581.0M138.6 575.9V583.0M141.1 576.7V583.8M144.2 577.7V583.7M146.3 578.5V585.0M149.8 578.6V585.9M152.6 580.3V586.1M155.3 580.8V588.7M158.4 581.9V589.1M161.6 583.7V590.8M164.5 584.3V592.2M168.0 586.1V593.0M170.9 587.9V593.7M173.8 588.0V594.7M177.4 589.7V595.8M179.4 590.0V596.6M182.0 590.7V596.6M184.2 590.8V598.1M186.6 592.6V598.5M189.2 593.8V600.6M192.5 595.5V602.7M194.7 596.9V603.0M196.8 597.8V604.7M199.4 598.7V606.5M202.1 600.3V607.6M205.1 602.2V608.3M208.2 602.8V609.6M210.6 603.5V610.5M213.0 603.4V611.1M216.6 605.3V611.9M219.8 606.4V613.5M222.3 606.7V613.9" stroke="#86888a" stroke-width="1.5" fill="none"/>
<path d="M34.4 496.2H40.1V510.2H43.5V537.1H52.7V552.5H68.1V567.5H75.0V582.7H118.7V601.9H130.2V630.5H223.5" stroke="#1f4a78" stroke-width="2.2" fill="none" stroke-linecap="square"/><path d="M35.5 492.9V499.5M38.5 492.9V499.5M43.5 533.8V540.4M87.9 579.4V586.0M128.3 598.6V605.2M221.5 627.2V633.8" stroke="#1f4a78" stroke-width="1.8" fill="none"/>
<path d="M34.5 496.0 L39.5 496.5" stroke="#1f4a78" stroke-width="3.4" fill="none" stroke-linecap="round"/>
<path d="M40.1 497.0 L40.1 509.0" stroke="#1f4a78" stroke-width="3.4" fill="none" stroke-linecap="round"/>
<path d="M34.4 496.2H81.0V523.7H88.8V550.6H90.8V577.5H110.0V618.5H119.8" stroke="#a8131c" stroke-width="2.2" fill="none" stroke-linecap="square"/><path d="M101.3 574.2V580.8M117.5 615.2V621.8" stroke="#a8131c" stroke-width="1.8" fill="none"/>
<text x="271.2" y="486.7" font-size="11.3" text-anchor="start" font-weight="bold" font-style="normal" stroke-width="0.5">F</text>
<text x="358.7" y="485.0" font-size="11.3" text-anchor="start" font-weight="bold" font-style="italic" textLength="35.7" lengthAdjust="spacingAndGlyphs" stroke-width="0.5">RUNX1</text>
<path d="M307.7 496.2V659.3" stroke="#2b2b2b" stroke-width="1.4" fill="none"/>
<path d="M303.4 659.3H307.7" stroke="#2b2b2b" stroke-width="1.3"/>
<text x="300.5" y="662.8" font-size="9.8" text-anchor="end" font-weight="normal" font-style="normal" textLength="11.2" lengthAdjust="spacingAndGlyphs" stroke-width="0.5">0.0</text>
<path d="M303.4 626.7H307.7" stroke="#2b2b2b" stroke-width="1.3"/>
<text x="300.5" y="630.2" font-size="9.8" text-anchor="end" font-weight="normal" font-style="normal" textLength="11.2" lengthAdjust="spacingAndGlyphs" stroke-width="0.5">0.2</text>
<path d="M303.4 594.1H307.7" stroke="#2b2b2b" stroke-width="1.3"/>
<text x="300.5" y="597.6" font-size="9.8" text-anchor="end" font-weight="normal" font-style="normal" textLength="11.2" lengthAdjust="spacingAndGlyphs" stroke-width="0.5">0.4</text>
<path d="M303.4 561.4H307.7" stroke="#2b2b2b" stroke-width="1.3"/>
<text x="300.5" y="564.9" font-size="9.8" text-anchor="end" font-weight="normal" font-style="normal" textLength="11.2" lengthAdjust="spacingAndGlyphs" stroke-width="0.5">0.6</text>
<path d="M303.4 528.8H307.7" stroke="#2b2b2b" stroke-width="1.3"/>
<text x="300.5" y="532.3" font-size="9.8" text-anchor="end" font-weight="normal" font-style="normal" textLength="11.2" lengthAdjust="spacingAndGlyphs" stroke-width="0.5">0.8</text>
<path d="M303.4 496.2H307.7" stroke="#2b2b2b" stroke-width="1.3"/>
<text x="300.5" y="499.7" font-size="9.8" text-anchor="end" font-weight="normal" font-style="normal" textLength="11.2" lengthAdjust="spacingAndGlyphs" stroke-width="0.5">1.0</text>
<text x="0" y="0" font-size="11.6" text-anchor="middle" textLength="112.5" lengthAdjust="spacingAndGlyphs" stroke-width="0.55" transform="translate(278.8 579.2) rotate(-90)">Leukemia–free survival</text>
<path d="M307.7 670.4V666.2H504.5V670.4" stroke="#2b2b2b" stroke-width="1.4" fill="none"/>
<text x="307.7" y="679.6" font-size="9.8" text-anchor="middle" font-weight="normal" font-style="normal" textLength="5.4" lengthAdjust="spacingAndGlyphs" stroke-width="0.5">0</text>
<path d="M335.8 666.2V670.4" stroke="#2b2b2b" stroke-width="1.3"/>
<text x="335.8" y="679.6" font-size="9.8" text-anchor="middle" font-weight="normal" font-style="normal" textLength="9.4" lengthAdjust="spacingAndGlyphs" stroke-width="0.5">10</text>
<path d="M363.9 666.2V670.4" stroke="#2b2b2b" stroke-width="1.3"/>
<text x="363.9" y="679.6" font-size="9.8" text-anchor="middle" font-weight="normal" font-style="normal" textLength="9.4" lengthAdjust="spacingAndGlyphs" stroke-width="0.5">20</text>
<path d="M392.0 666.2V670.4" stroke="#2b2b2b" stroke-width="1.3"/>
<text x="392.0" y="679.6" font-size="9.8" text-anchor="middle" font-weight="normal" font-style="normal" textLength="9.4" lengthAdjust="spacingAndGlyphs" stroke-width="0.5">30</text>
<path d="M420.1 666.2V670.4" stroke="#2b2b2b" stroke-width="1.3"/>
<text x="420.1" y="679.6" font-size="9.8" text-anchor="middle" font-weight="normal" font-style="normal" textLength="9.4" lengthAdjust="spacingAndGlyphs" stroke-width="0.5">40</text>
<path d="M448.2 666.2V670.4" stroke="#2b2b2b" stroke-width="1.3"/>
<text x="448.2" y="679.6" font-size="9.8" text-anchor="middle" font-weight="normal" font-style="normal" textLength="9.4" lengthAdjust="spacingAndGlyphs" stroke-width="0.5">50</text>
<path d="M476.4 666.2V670.4" stroke="#2b2b2b" stroke-width="1.3"/>
<text x="476.4" y="679.6" font-size="9.8" text-anchor="middle" font-weight="normal" font-style="normal" textLength="9.4" lengthAdjust="spacingAndGlyphs" stroke-width="0.5">60</text>
<text x="504.5" y="679.6" font-size="9.8" text-anchor="middle" font-weight="normal" font-style="normal" textLength="9.4" lengthAdjust="spacingAndGlyphs" stroke-width="0.5">70</text>
<text x="406.1" y="699.1" font-size="12" text-anchor="middle" font-weight="normal" font-style="normal" textLength="69.2" lengthAdjust="spacingAndGlyphs" stroke-width="0.6">Time (months)</text>
<path d="M424.6 498.3H436.8" stroke="#86888a" stroke-width="2"/>
<text x="441.4" y="501.5" font-size="9.3" text-anchor="start" font-weight="normal" font-style="normal" textLength="51.0" lengthAdjust="spacingAndGlyphs" stroke-width="0.42">Not mutated</text>
<path d="M424.6 509.0H436.8" stroke="#a8131c" stroke-width="2"/>
<text x="441.4" y="512.2" font-size="9.3" text-anchor="start" font-weight="normal" font-style="normal" textLength="79.0" lengthAdjust="spacingAndGlyphs" stroke-width="0.42">Subclonal mutation</text>
<path d="M424.6 519.7H436.8" stroke="#1f4a78" stroke-width="2"/>
<text x="441.4" y="522.9" font-size="9.3" text-anchor="start" font-weight="normal" font-style="normal" textLength="64.8" lengthAdjust="spacingAndGlyphs" stroke-width="0.42">Clonal mutation</text>
<text x="429.8" y="628.3" font-size="9.2" text-anchor="start" font-weight="normal" font-style="normal" textLength="23.1" lengthAdjust="spacingAndGlyphs" stroke-width="0.5">p=0.8</text>
<text x="405.8" y="639.8" font-size="9.2" text-anchor="start" font-weight="normal" font-style="normal" textLength="77.2" lengthAdjust="spacingAndGlyphs" stroke-width="0.5">Clonal vs subclonal</text>
<path d="M307.7 496.2 L312.5 501.2 L318.8 511.5 L325.0 518.5 L330.0 524.0 L337.5 531.5 L349.2 540.4 L360.0 547.5 L368.5 552.9 L378.0 558.5 L387.7 563.5 L397.0 568.5 L406.9 573.1 L416.0 576.0 L426.2 578.5 L431.7 580.9 L442.3 587.0 L452.9 591.2 L463.4 595.5 L474.0 598.6 L484.6 603.9 L495.1 607.1 L502.5 611.3" stroke="#86888a" stroke-width="3.8" fill="none" stroke-linejoin="round"/><path d="M309.2 493.7V501.2M312.4 498.0V504.6M315.3 502.3V509.3M317.4 506.1V512.7M319.9 509.9V516.1M323.3 512.9V520.8M326.3 516.5V524.0M328.6 518.8V526.2M331.2 521.8V527.9M334.3 525.4V531.8M337.4 527.7V535.7M339.5 529.8V537.0M341.7 531.5V537.8M343.8 532.9V539.8M347.4 535.3V542.3M349.5 536.8V544.1M353.1 539.4V545.9M356.1 541.3V548.0M358.5 542.8V549.8M360.6 544.5V551.6M362.6 545.1V552.4M365.0 547.3V554.1M368.0 549.8V555.6M370.6 550.6V557.8M373.6 552.3V560.2M376.0 554.3V560.7M378.0 555.7V561.5M381.1 556.8V563.7M383.5 557.9V564.1M386.5 559.6V566.0M389.8 560.5V568.5M393.4 563.0V570.8M396.2 564.7V572.1M399.6 566.5V572.9M402.7 567.7V575.2M404.9 568.1V575.4M407.0 569.6V576.1M410.3 570.2V577.5M413.6 572.2V578.7M415.7 572.4V579.2M418.1 573.3V580.3M420.4 572.7V580.7M423.4 574.2V581.8M426.4 575.1V581.5M429.5 576.4V584.1M431.9 577.2V584.1M434.5 578.9V585.6M436.8 579.9V587.4M440.1 582.5V588.8M442.5 583.3V590.5M444.9 584.7V591.4M448.1 586.3V592.3M450.5 587.0V594.0M453.8 588.6V594.9M457.1 589.2V596.6M460.3 591.2V597.9M462.9 591.9V598.1M466.1 592.1V599.7M468.6 592.9V600.5M470.8 593.9V601.4M473.2 594.2V601.8M475.4 595.4V602.7M478.7 597.4V604.1M481.8 598.4V606.4M485.0 600.8V607.4M487.7 601.4V609.1M489.7 601.8V609.5M491.9 602.0V609.8M494.8 603.8V609.8M496.9 604.1V611.3M499.0 606.2V613.0M501.7 607.8V614.4" stroke="#86888a" stroke-width="1.5" fill="none"/>
<path d="M307.7 496.2H311.0V500.0H313.8V507.3H315.6V522.4H321.1V548.0H327.7V554.7H346.7V562.3H353.0V577.4H354.8V584.6H357.4V598.8H363.7V606.8H366.7V614.0H376.1V630.0H377.5V638.0H378.8V645.2H381.5V652.3H406.8V659.8H406.8" stroke="#1f4a78" stroke-width="2.2" fill="none" stroke-linecap="square"/><path d="M308.0 492.9V499.5M310.5 492.9V499.5M309.3 492.9V499.5M312.0 496.7V503.3M330.0 551.4V558.0M332.5 551.4V558.0" stroke="#1f4a78" stroke-width="1.8" fill="none"/>
<path d="M307.5 496.0 L311.0 497.0" stroke="#1f4a78" stroke-width="3.4" fill="none" stroke-linecap="round"/>
<path d="M309.0 497.0 L312.0 505.0" stroke="#1f4a78" stroke-width="3.4" fill="none" stroke-linecap="round"/>
<path d="M307.7 496.2H313.0V522.9H320.4V550.0H331.1V586.7H351.7V622.9H376.7V659.8H376.7" stroke="#a8131c" stroke-width="2.2" fill="none" stroke-linecap="square"/>
</svg></body></html>
